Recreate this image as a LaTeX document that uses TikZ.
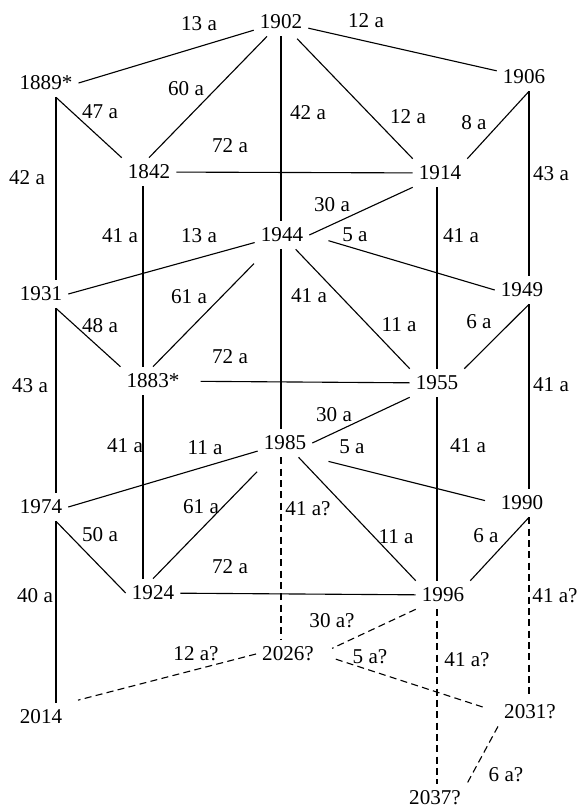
\documentclass[tikz,border=0pt]{standalone}
\usepackage{fontspec}
\setmainfont{Liberation Serif}
\tikzset{
  yr/.style={inner xsep=1.8mm, inner ysep=2.1mm},
  intv/.style={inner sep=0pt},
  known/.style={line width=0.95pt},
  predicted/.style={line width=0.95pt, dash pattern=on 2.1mm off 1.3mm},
}
\begin{document}
\begin{tikzpicture}[x=0.3mm, y=-0.3mm, font=\fontsize{18pt}{21pt}\selectfont]
    \useasboundingbox (0,0) rectangle (577,809);

    % years
    \node (n1902) [yr] at (281,22) {1902};
    \node (n1889) [yr] at (46,83) {1889*};
    \node (n1906) [yr] at (524,77) {1906};
    \node (n1842) [yr] at (149,172) {1842};
    \node (n1914) [yr] at (440,173) {1914};
    \node (n1944) [yr] at (282,235) {1944};
    \node (n1931) [yr] at (41,294) {1931};
    \node (n1949) [yr] at (522,290) {1949};
    \node (n1883) [yr] at (153,381) {1883*};
    \node (n1955) [yr] at (437,383) {1955};
    \node (n1985) [yr] at (285,443) {1985};
    \node (n1974) [yr] at (41,507) {1974};
    \node (n1990) [yr] at (522,503) {1990};
    \node (n1924) [yr] at (153,593) {1924};
    \node (n1996) [yr] at (443,595) {1996};
    \node (n2026) [yr] at (288,654) {2026?};
    \node (n2014) [yr] at (41,717) {2014};
    \node (n2031) [yr] at (530,712) {2031?};
    \node (n2037) [yr] at (435,798) {2037?};

    % x of the vertical lines
    \coordinate (colA) at (56,0);
    \coordinate (colB) at (143,0);
    \coordinate (colC) at (281,0);
    \coordinate (colD) at (437,0);
    \coordinate (colE) at (529,0);

    % vertical lines
    \draw[known] (n1889.south -| colA) -- (n1931.north -| colA) node[intv] at (27,178) {42 a};
    \draw[known] (n1931.south -| colA) -- (n1974.north -| colA) node[intv] at (30,386) {43 a};
    \draw[known] (n1974.south -| colA) -- (n2014.north -| colA) node[intv] at (35,596) {40 a};
    \draw[known] (n1842.south -| colB) -- (n1883.north -| colB) node[intv] at (120,236) {41 a};
    \draw[known] (n1883.south -| colB) -- (n1924.north -| colB) node[intv] at (125,446) {41 a};
    \draw[known] (n1902.south -| colC) -- (n1944.north -| colC) node[intv] at (308,113) {42 a};
    \draw[known] (n1944.south -| colC) -- (n1985.north -| colC) node[intv] at (309,296) {41 a};
    \draw[predicted] (n1985.south -| colC) -- (n2026.north -| colC) node[intv] at (308,509) {41 a?};
    \draw[known] (n1914.south -| colD) -- (n1955.north -| colD) node[intv] at (461,236) {41 a};
    \draw[known] (n1955.south -| colD) -- (n1996.north -| colD) node[intv] at (468,446) {41 a};
    \draw[predicted] (n1996.south -| colD) -- (n2037.north -| colD) node[intv] at (467,660) {41 a?};
    \draw[known] (n1906.south -| colE) -- (n1949.north -| colE) node[intv] at (551,174) {43 a};
    \draw[known] (n1949.south -| colE) -- (n1990.north -| colE) node[intv] at (551,385) {41 a};
    \draw[predicted] (n1990.south -| colE) -- (n2031.north -| colE) node[intv] at (555,596) {41 a?};

    % horizontal lines
    \draw[known] (n1842) -- (n1914) node[intv] at (230,146) {72 a};
    \draw[known, shorten <=4.5mm] (n1883) -- (n1955) node[intv] at (230,357) {72 a};
    \draw[known] (n1924) -- (n1996) node[intv] at (230,567) {72 a};

    % slanted lines
    \draw[known] (n1902) -- (n1889.east) node[intv] at (199,24) {13 a};
    \draw[known] (n1902) -- (n1906) node[intv] at (366,21) {12 a};
    \draw[known] (n1902) -- (n1842.north) node[intv] at (186,89) {60 a};
    \draw[known, shorten <=1mm] (n1902) -- (n1914.north west) node[intv] at (408,117) {12 a};
    \draw[known] (n1889.south -| colA) -- (n1842.north west) node[intv] at (100,112) {47 a};
    \draw[known] (n1906.south -| colE) -- (n1914.north east) node[intv] at (474,123) {8 a};
    \draw[known] (n1944.east) -- (n1914.south west) node[intv] at (332,205) {30 a};
    \draw[known] (n1944) -- (n1931.east) node[intv] at (199,236) {13 a};
    \draw[known, shorten <=6mm] (n1944.east) -- (n1949.west) node[intv] at (355,235) {5 a};
    \draw[known, shorten <=6mm] (n1944) -- (n1883.north) node[intv] at (189,297) {61 a};
    \draw[known] (n1944) -- (n1955.north west) node[intv] at (399,325) {11 a};
    \draw[known] (n1931.south -| colA) -- (n1883.north west) node[intv] at (100,326) {48 a};
    \draw[known] (n1949.south -| colE) -- (n1955.north east) node[intv] at (479,322) {6 a};
    \draw[known] (n1985.east) -- (n1955.south west) node[intv] at (334,415) {30 a};
    \draw[known] (n1985) -- (n1974.east) node[intv] at (205,448) {11 a};
    \draw[known, shorten <=5mm, shorten >=3mm] (n1985.south east) -- (n1990.west) node[intv] at (352,447) {5 a};
    \draw[known, shorten <=6mm] (n1985) -- (n1924.north) node[intv] at (201,507) {61 a};
    \draw[known] (n1985) -- (n1996.north west) node[intv] at (396,537) {11 a};
    \draw[known] (n1974.south -| colA) -- (n1924.west) node[intv] at (100,535) {50 a};
    \draw[known] (n1990.south -| colE) -- (n1996.north east) node[intv] at (486,536) {6 a};
    \draw[predicted, shorten >=4mm] (n1996.south west) -- (n2026.east) node[intv] at (332,621) {30 a?};
    \draw[predicted, shorten >=3mm] (n2026.west) -- (n2014.north east) node[intv] at (196,654) {12 a?};
    \draw[predicted, shorten <=5mm, shorten >=4mm] (n2026.east) -- (n2031.west) node[intv] at (370,657) {5 a?};
    \draw[predicted] (n2031.south west) -- (n2037.north east) node[intv] at (506,775) {6 a?};
\end{tikzpicture}
\end{document}
